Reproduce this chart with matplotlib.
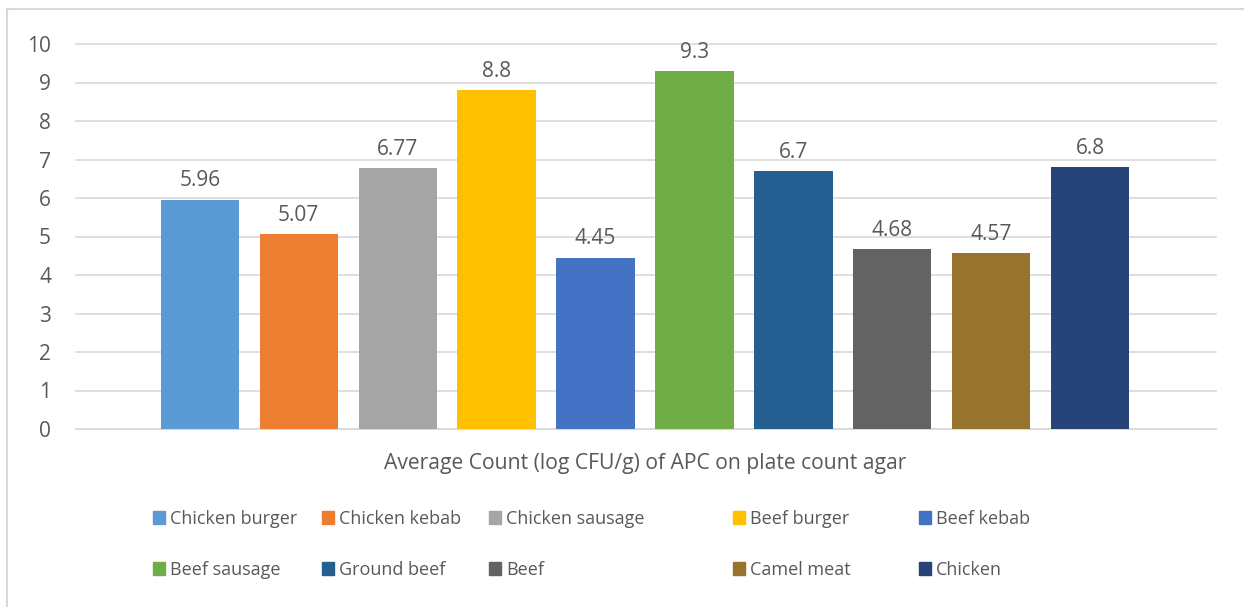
import matplotlib.pyplot as plt
from matplotlib.patches import Rectangle
from matplotlib.lines import Line2D

# data
products = ["Chicken burger", "Chicken kebab", "Chicken sausage", "Beef burger",
            "Beef kebab", "Beef sausage", "Ground beef", "Beef", "Camel meat",
            "Chicken"]
apc_counts = [5.96, 5.07, 6.77, 8.8, 4.45, 9.3, 6.7, 4.68, 4.57, 6.8]
count_labels = ["5.96", "5.07", "6.77", "8.8", "4.45", "9.3", "6.7", "4.68",
                "4.57", "6.8"]
yticks = [0, 1, 2, 3, 4, 5, 6, 7, 8, 9, 10]
x_title = "Average Count (log CFU/g) of APC on plate count agar"

colors = ["#5B9BD5", "#ED7D31", "#A5A5A5", "#FFC000", "#4472C4",
          "#70AD47", "#255E91", "#636363", "#96742D", "#264478"]

plt.rcParams["font.family"] = ["Open Sans", "DejaVu Sans"]
text_color = "#595959"
grid_color = "#D9D9D9"
fs_num = 15     # tick and data labels
fs_leg = 13     # legend entries
fs_title = 15.2 # axis title

W, H = 1244, 607
fig = plt.figure(figsize=(W / 100, H / 100), dpi=100)

# chart border (only top/left visible in the crop)
fig.add_artist(Line2D([7 / W, 7 / W], [0, 1 - 9 / H], color=grid_color, lw=1.5))
fig.add_artist(Line2D([7 / W, 1], [1 - 9 / H, 1 - 9 / H], color=grid_color, lw=1.5))

ax = fig.add_axes([76 / W, 1 - 429 / H, (1216 - 76) / W, (429 - 44) / H])
positions = list(range(len(products)))
bars = ax.bar(positions, apc_counts, width=0.79, color=colors, zorder=3)

for b, lab in zip(bars, count_labels):
    ax.annotate(lab, (b.get_x() + b.get_width() / 2, b.get_height()),
                xytext=(0, 13.5), textcoords="offset points", ha="center",
                va="center", fontsize=fs_num, color=text_color)

ax.set_xlim(-1.25, len(products) - 1 + 1.27)
ax.set_ylim(0, 10)
ax.set_yticks(yticks)
ax.set_yticklabels([str(t) for t in yticks])
ax.grid(axis="y", color=grid_color, lw=1.2, zorder=0)
ax.set_axisbelow(True)
for t in ax.yaxis.get_gridlines():
    t.set_clip_on(False)
for s in ["top", "right", "left"]:
    ax.spines[s].set_visible(False)
ax.spines["bottom"].set_color(grid_color)
ax.spines["bottom"].set_linewidth(1.2)
ax.tick_params(axis="y", length=0, pad=18, labelsize=fs_num, labelcolor=text_color)
ax.tick_params(axis="x", length=0, labelbottom=False)

fig.text(645 / W, 1 - 463 / H, x_title, ha="center", va="center",
         fontsize=fs_title, color=text_color)

# legend, laid out like the Excel one
leg_x = [153, 322, 489, 733, 919]
leg_y = [518, 569]
for i, (name, c) in enumerate(zip(products, colors)):
    row, col = divmod(i, 5)
    x0, y0 = leg_x[col], leg_y[row]
    fig.add_artist(Rectangle((x0 / W, 1 - (y0 + 6) / H), 12 / W, 13 / H,
                             color=c, transform=fig.transFigure))
    fig.text((x0 + 17) / W, 1 - (y0 + 1) / H, name, ha="left", va="center",
             fontsize=fs_leg, color=text_color)

fig.savefig("out.png", dpi=100)
